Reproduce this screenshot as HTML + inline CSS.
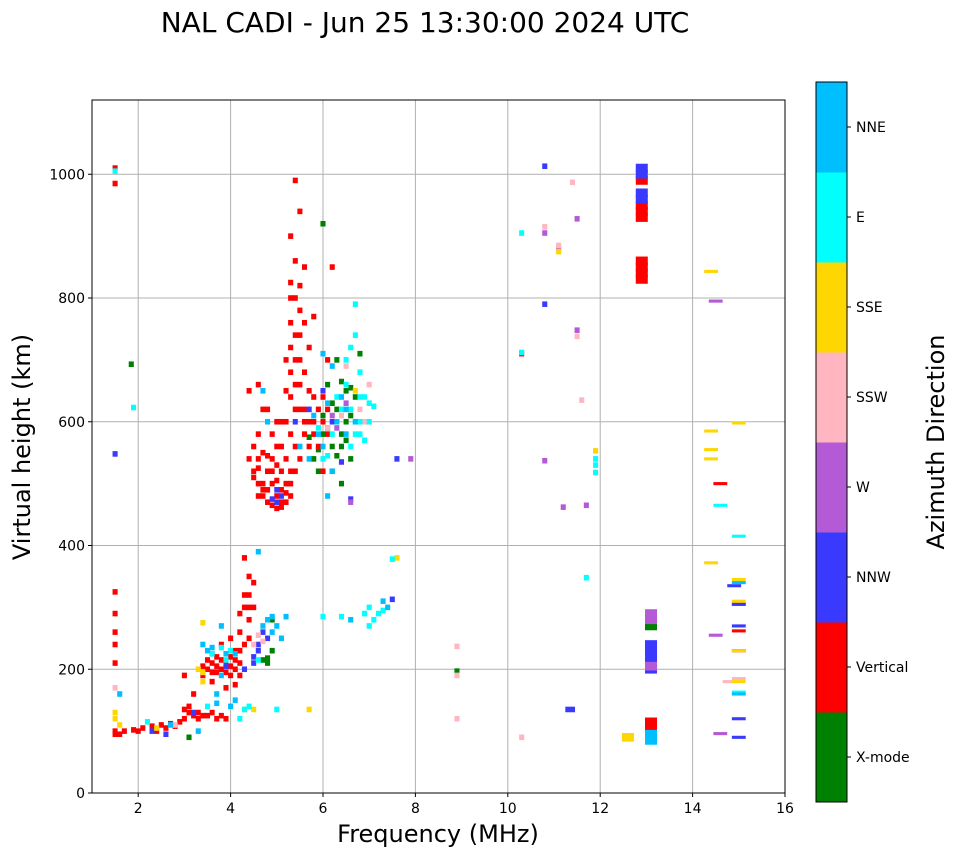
<!DOCTYPE html>
<html><head><meta charset="utf-8"><style>
body{margin:0;background:#fff;}
svg text{font-family:"DejaVu Sans","Liberation Sans",sans-serif;fill:#000;}
</style></head><body>
<svg id="chart" width="958" height="857" xmlns="http://www.w3.org/2000/svg">
<text x="425" y="32" font-size="28" text-anchor="middle">NAL CADI - Jun 25 13:30:00 2024 UTC</text>
<g id="grid"></g>
<g id="marks"></g>
<rect x="92" y="100" width="693" height="693" fill="none" stroke="#000" stroke-width="1"/>
<g id="axes"></g>
<text x="438" y="842" font-size="24" text-anchor="middle">Frequency (MHz)</text>
<text transform="translate(30,447) rotate(-90)" font-size="24" text-anchor="middle">Virtual height (km)</text>
<g id="cbar"></g>
<text transform="translate(944,442) rotate(-90)" font-size="24" text-anchor="middle">Azimuth Direction</text>
</svg>
<script>
const xTicks=[2,4,6,8,10,12,14,16];
const yTicks=[0,200,400,600,800,1000];
const cbarLabels=["X-mode","Vertical","NNW","W","SSW","SSE","E","NNE"];
const cbarColors=["#008000","#ff0000","#3a3aff","#b45ad6","#ffb6c1","#ffd700","#00ffff","#00bfff"];
const xmode=[[6.0,920],[6.3,620],[6.4,580],[6.5,600],[6.6,540],[6.2,560],[6.0,580],[5.9,520],[6.7,640],[6.5,650],[6.3,700],[5.8,540],[4.9,280],[4.9,230],[4.8,210],[4.7,215],[3.1,90],[13.1,270],[8.9,197],[1.85,693],[6.8,710],[6.1,660],[6.4,500],[6.6,610],[6.2,630],[6.4,560],[6.5,570],[6.3,545],[6.1,590],[6.6,655],[6.0,610],[5.9,555],[6.2,520],[6.4,665],[5.7,575],[4.8,218]];
const vertical=[[1.5,100],[1.5,95],[1.5,210],[1.5,240],[1.5,260],[1.5,290],[1.5,325],[1.5,985],[1.5,1010],[1.6,95],[1.7,100],[1.9,102],[2.0,100],[2.1,105],[2.3,108],[2.5,110],[2.7,112],[2.9,115],[3.0,120],[3.1,130],[3.1,140],[3.0,190],[3.2,160],[3.3,130],[3.4,125],[3.5,125],[3.6,130],[3.7,120],[3.8,125],[3.9,120],[3.4,190],[3.5,200],[3.6,210],[3.7,220],[3.8,200],[3.9,210],[4.0,220],[4.1,230],[4.0,190],[4.1,200],[3.6,180],[3.7,195],[3.8,240],[3.9,170],[4.2,210],[4.3,240],[4.3,300],[4.4,320],[4.4,280],[4.5,300],[4.5,340],[4.3,380],[4.2,190],[4.1,175],[4.0,250],[4.2,260],[4.4,250],[3.5,215],[3.6,195],[3.4,205],[3.6,225],[3.8,215],[4.0,205],[4.2,230],[4.1,215],[3.9,195],[3.7,205],[4.3,320],[4.4,300],[4.2,290],[4.4,350],[3.2,125],[3.3,120],[2.8,108],[2.6,105],[2.4,100],[3.0,135],
[4.4,540],[4.5,520],[4.6,500],[4.7,480],[4.8,470],[4.9,465],[5.0,460],[5.1,462],[5.2,470],[5.3,480],[4.5,560],[4.6,580],[4.7,550],[4.8,520],[4.9,500],[5.0,530],[5.1,560],[5.2,600],[5.3,640],[5.4,660],[4.4,650],[4.6,660],[4.8,620],[5.0,600],[5.2,700],[5.3,720],[5.4,740],[5.5,780],[5.3,800],[5.4,860],[5.3,900],[5.4,990],[5.5,940],[5.6,850],[5.5,700],[5.7,650],[5.8,600],[5.6,580],[5.9,560],[6.0,600],[6.1,620],[5.7,720],[5.8,770],[6.2,850],[6.1,700],[6.0,520],[5.4,560],[5.5,620],[5.6,680],[4.9,580],[5.1,520],[5.3,520],[5.2,540],[4.7,620],[4.6,540],[4.8,490],[5.0,480],[4.5,510],[4.6,525],[4.7,500],[4.8,545],[4.9,520],[5.0,505],[5.1,490],[5.2,500],[5.3,500],[5.4,520],[5.5,540],[5.6,600],[5.3,580],[5.1,600],[5.0,560],[4.9,540],[5.2,650],[5.3,680],[5.4,700],[5.5,660],[5.6,620],[5.7,600],[5.8,640],[5.4,620],[5.3,760],[5.4,800],[5.5,740],[5.6,760],[5.7,560],[5.8,580],[5.9,620],[6.0,640],[6.1,580],[4.7,490],[4.6,480],[5.1,470],[5.2,485],[5.3,825],[5.5,820],
[12.9,830],[12.9,840],[12.9,850],[12.9,860],[12.9,930],[12.9,940],[12.9,950],[12.9,990],[13.1,115],[13.1,105],[14.6,500],[15.0,230],[15.0,262],[15.0,305],[10.3,710]];
const nnw=[[4.5,220],[4.6,230],[4.7,260],[4.8,250],[4.3,200],[3.2,130],[2.6,95],[2.3,100],[13.1,200],[13.1,210],[13.1,220],[13.1,230],[13.1,240],[12.9,1010],[12.9,1000],[12.9,970],[12.9,960],[15.0,90],[15.0,120],[15.0,270],[15.0,305],[14.9,335],[11.4,135],[11.3,135],[10.8,790],[10.8,1013],[7.5,313],[6.6,475],[6.4,535],[6.2,600],[6.0,650],[5.7,620],[5.4,600],[1.5,548],[7.6,540],[5.0,470],[5.1,480],[4.6,240],[4.5,210],[4.9,475],[5.0,490],[3.9,205]];
const west=[[13.1,280],[13.1,290],[13.1,205],[14.6,96],[14.5,255],[14.5,795],[11.7,465],[11.2,462],[11.5,748],[11.5,928],[11.1,880],[10.8,905],[10.8,537],[7.9,540],[6.6,470],[6.3,590],[6.2,610],[6.5,630]];
const ssw=[[1.5,170],[8.9,190],[8.9,237],[8.9,120],[10.3,90],[11.6,635],[11.5,738],[11.1,885],[10.8,915],[11.4,987],[15.0,185],[14.8,180],[6.9,600],[7.0,660],[6.8,620],[6.5,690],[2.8,110],[4.5,240],[4.6,255],[4.7,245],[6.1,590],[6.4,610]];
const sse=[[1.5,120],[1.6,110],[3.4,275],[3.3,200],[3.4,180],[2.4,105],[12.6,90],[14.4,843],[14.4,585],[14.4,555],[14.4,540],[14.4,372],[15.0,598],[15.0,345],[15.0,310],[15.0,230],[15.0,180],[11.9,553],[11.1,875],[5.7,135],[6.7,650],[4.5,135],[7.6,380],[3.4,195],[1.5,130],[4.3,135]];
const east=[[3.5,140],[4.3,135],[4.2,120],[5.0,135],[6.0,285],[6.4,285],[7.0,300],[7.2,290],[7.3,295],[7.1,280],[7.0,270],[6.9,290],[6.7,790],[6.7,740],[6.6,720],[6.8,680],[6.9,640],[7.1,625],[6.5,660],[6.8,580],[6.6,560],[7.0,600],[6.3,640],[5.9,590],[6.1,545],[11.9,530],[11.9,518],[11.9,540],[11.7,348],[10.3,905],[10.3,712],[14.6,465],[15.0,415],[15.0,163],[13.1,90],[7.5,378],[1.9,623],[1.5,1005],[2.2,115],[6.7,600],[6.9,570],[6.6,620],[6.7,580],[6.8,640],[6.5,700],[6.4,620],[7.0,630],[6.8,600],[6.2,580],[6.0,540],[4.6,215],[3.9,215],[4.0,230],[3.8,235],[4.4,140],[3.6,225]];
const nne=[[3.4,240],[3.5,230],[3.6,235],[3.7,160],[3.8,190],[4.6,390],[5.0,270],[5.1,250],[4.9,260],[5.2,285],[4.7,270],[3.8,270],[4.1,150],[4.0,140],[3.7,145],[3.3,100],[2.7,110],[1.6,160],[13.1,95],[13.1,85],[15.0,160],[15.0,340],[6.6,280],[7.3,310],[7.4,300],[6.0,710],[6.2,690],[6.4,640],[6.5,580],[6.2,520],[6.0,560],[5.8,610],[4.7,650],[4.8,600],[6.1,480],[6.3,600],[6.5,620],[6.7,600],[6.1,630],[5.9,580],[5.7,540],[5.5,560],[4.9,285],[4.8,280],[3.9,225],[4.1,225]];

const NS="http://www.w3.org/2000/svg";
const X0=92,X1=785,Y0=793,Y1=100,FMIN=1,FMAX=16,HMIN=0,HMAX=1120;
function xs(f){return X0+(f-FMIN)/(FMAX-FMIN)*(X1-X0);}
function ys(h){return Y0-(h-HMIN)/(HMAX-HMIN)*(Y0-Y1);}
function mk(tag,attrs,parent){const e=document.createElementNS(NS,tag);for(const k in attrs)e.setAttribute(k,attrs[k]);parent.appendChild(e);return e;}
const grid=document.getElementById('grid'),axes=document.getElementById('axes'),marks=document.getElementById('marks'),cbar=document.getElementById('cbar');
xTicks.forEach(t=>{const x=xs(t);
 const g=mk('line',{x1:x,x2:x,y1:Y1,y2:Y0,stroke:'#b0b0b0','stroke-width':1},grid);
 
 
 const tk=mk('line',{x1:x,x2:x,y1:Y0,y2:Y0+4,stroke:'#000'},axes);
 
 
 const tx=mk('text',{x:x,y:Y0+20,'font-size':14,'text-anchor':'middle'},axes);tx.textContent=t;
 
 
});
yTicks.forEach(t=>{const y=ys(t);
 const g=mk('line',{x1:X0,x2:X1,y1:y,y2:y,stroke:'#b0b0b0','stroke-width':1},grid);
 
 
 const tk=mk('line',{x1:X0-4,x2:X0,y1:y,y2:y,stroke:'#000'},axes);
 
 
 const tx=mk('text',{x:X0-7,y:y+5,'font-size':14,'text-anchor':'end'},axes);tx.textContent=t;
 
 
});
const series=[xmode,vertical,nnw,west,ssw,sse,east,nne];
series.forEach((arr,i)=>{arr.forEach(p=>{
 const col13=p[0]>12.5&&p[0]<13.5, far=p[0]>14.3;
 const CW=col13?0.26:(far?0.3:0.11);
 const CH=col13?14:(far?5:9);
 const x=xs(p[0]-CW/2),w=xs(p[0]+CW/2)-x,y=ys(p[1]+CH/2),h=ys(p[1]-CH/2)-y;
 const r=mk('rect',{x:x,y:y,width:w,height:h,fill:cbarColors[i]},marks);
 
 
});});
const CB0=816,CBW=31,CBT=82,CBB=802,seg=(CBB-CBT)/cbarLabels.length;
cbarLabels.forEach((l,i)=>{const y=CBB-(i+1)*seg;
 const r=mk('rect',{x:CB0,y:y,width:CBW,height:seg+0.5,fill:cbarColors[i]},cbar);
 
 
 const tk=mk('line',{x1:CB0+CBW,x2:CB0+CBW+4,y1:y+seg/2,y2:y+seg/2,stroke:'#000'},cbar);
 
 
 const tx=mk('text',{x:CB0+CBW+9,y:y+seg/2+5,'font-size':14},cbar);tx.textContent=l;
 
 
});
const fr=mk('rect',{x:CB0,y:CBT,width:CBW,height:CBB-CBT,fill:'none',stroke:'#000'},cbar);


</script>
</body></html>
